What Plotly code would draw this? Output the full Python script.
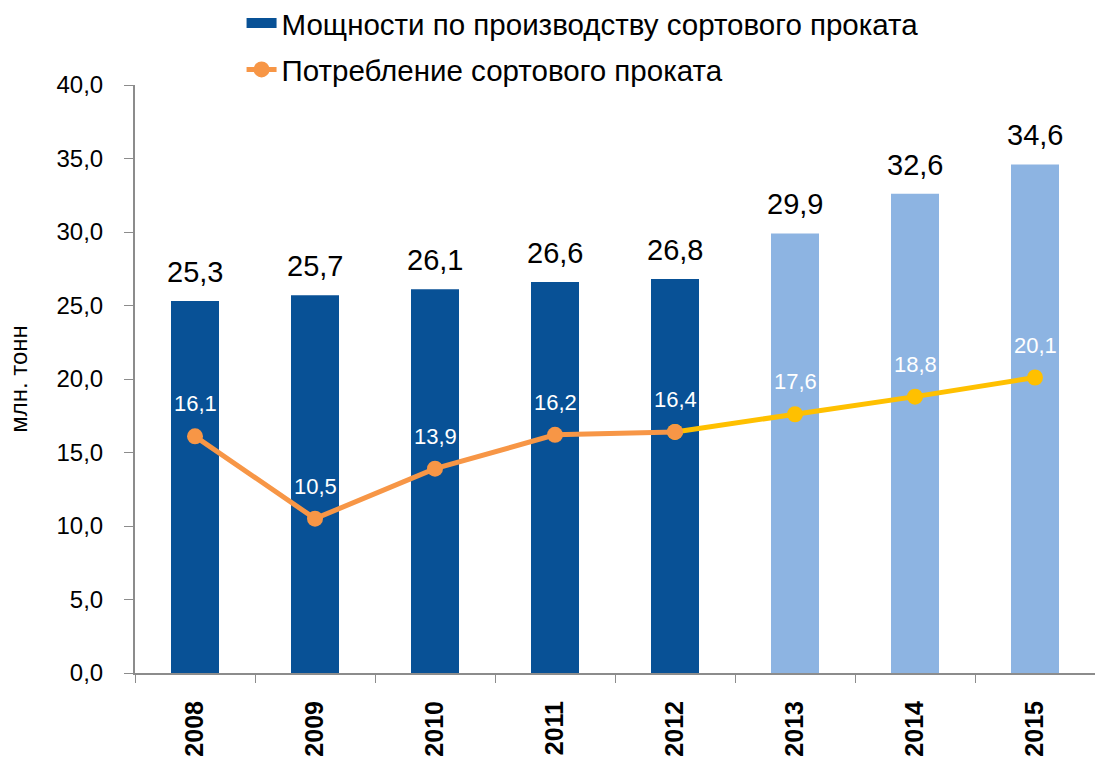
import plotly.graph_objects as go

years = ["2008", "2009", "2010", "2011", "2012", "2013", "2014", "2015"]
capacity = [25.3, 25.7, 26.1, 26.6, 26.8, 29.9, 32.6, 34.6]
consumption = [16.1, 10.5, 13.9, 16.2, 16.4, 17.6, 18.8, 20.1]
n_actual = 5  # first 5 years actual, rest forecast

dark_blue = "#085196"
light_blue = "#8DB4E2"
orange = "#F79646"
gold = "#FFC000"

bar_colors = [dark_blue if i < n_actual else light_blue for i in range(len(years))]

def fmt(v):
    return f"{v:.1f}".replace(".", ",")

fig = go.Figure()
fig.add_trace(go.Bar(
    x=years, y=capacity, marker=dict(color=bar_colors, line=dict(width=0)),
    width=0.4, showlegend=False,
))
# legend entry for bars (wide rectangle like the reference)
fig.add_trace(go.Scatter(
    x=[None], y=[None], mode="lines", line=dict(color=dark_blue, width=12),
    name="Мощности по производству сортового проката", legendgroup="a",
))
fig.add_trace(go.Scatter(
    x=years[n_actual - 1:], y=consumption[n_actual - 1:], mode="lines+markers",
    line=dict(color=gold, width=5), marker=dict(color=gold, size=16),
    showlegend=False,
))
fig.add_trace(go.Scatter(
    x=years[:n_actual], y=consumption[:n_actual], mode="lines+markers",
    line=dict(color=orange, width=5), marker=dict(color=orange, size=16),
    name="Потребление сортового проката", legendgroup="b",
))

annotations = []
for i, v in enumerate(capacity):
    annotations.append(dict(x=i, y=v, xref="x", yref="y", text=fmt(v), showarrow=False,
                            yanchor="bottom", yshift=11,
                            font=dict(size=29, color="black", family="Arial")))
for i, v in enumerate(consumption):
    annotations.append(dict(x=i, y=v, xref="x", yref="y", text=fmt(v), showarrow=False,
                            yanchor="bottom", yshift=18,
                            font=dict(size=22, color="white", family="Arial")))

fig.update_layout(
    width=1095, height=763,
    margin=dict(l=135, r=0, t=85, b=90, autoexpand=False),
    paper_bgcolor="white", plot_bgcolor="white",
    separators=", ",
    font=dict(family="Arial", color="black"),
    showlegend=True,
    legend=dict(x=0.111, y=1.149, xanchor="left", yanchor="top",
                font=dict(size=29.5, family="Arial"), traceorder="grouped",
                bgcolor="rgba(0,0,0,0)", tracegroupgap=5),
    annotations=annotations,
    xaxis=dict(type="category", range=[-0.5, 7.5], showline=True, linecolor="#8C8C8C",
               linewidth=2, ticks="outside", tickson="boundaries", ticklen=8,
               tickcolor="#8C8C8C", tickangle=-90,
               tickfont=dict(size=25, family="Arial", weight="bold", color="black"),
               showgrid=False, ticklabelstandoff=16),
    yaxis=dict(range=[0, 40], dtick=5, tickformat=".1f", showline=True,
               linecolor="#8C8C8C", linewidth=2, ticks="outside", ticklen=9,
               tickcolor="#8C8C8C", showgrid=False, zeroline=False,
               tickfont=dict(size=24, family="Arial"), ticklabelstandoff=16,
               title=dict(text="млн. тонн", font=dict(size=24), standoff=22)),
)

fig.write_html("out.html")
